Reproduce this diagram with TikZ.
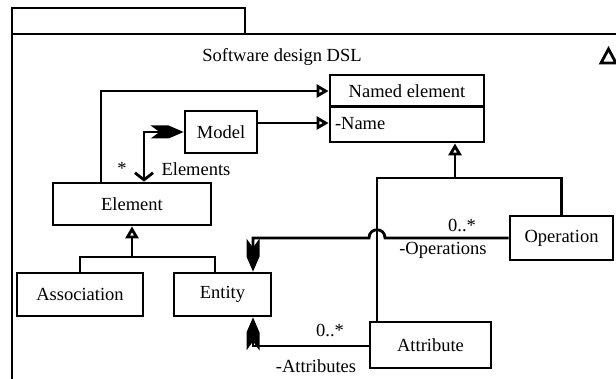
\documentclass[tikz,border=0pt]{standalone}
\usepackage{fontspec}
\setmainfont{Liberation Serif}
\usetikzlibrary{arrows.meta}
\pgfdeclarearrow{
  name = Fletch,
  setup code = {
    \pgfarrowssettipend{0pt}
    \pgfarrowssetbackend{-33pt}
    \pgfarrowssetlineend{-22pt}
    \pgfarrowssetvisualbackend{-22pt}
    \pgfarrowshullpoint{0pt}{0pt}
    \pgfarrowshullpoint{-33pt}{6.5pt}
    \pgfarrowshullpoint{-33pt}{-6.5pt}
  },
  drawing code = {
    \pgfpathmoveto{\pgfqpoint{0pt}{0pt}}
    \pgfpathlineto{\pgfqpoint{-15pt}{6.5pt}}
    \pgfpathlineto{\pgfqpoint{-33pt}{6.5pt}}
    \pgfpathlineto{\pgfqpoint{-24pt}{0pt}}
    \pgfpathlineto{\pgfqpoint{-33pt}{-6.5pt}}
    \pgfpathlineto{\pgfqpoint{-15pt}{-6.5pt}}
    \pgfpathclose
    \pgfusepathqfill
  }
}
\begin{document}
\begin{tikzpicture}[x=1pt,y=-1pt,
  every node/.style={font=\fontsize{18.5}{20}\selectfont},
  box/.style={draw,line width=2.8pt,inner sep=0pt,anchor=center},
  conn/.style={line width=2.8pt},
  gen/.style={conn,-{Triangle[open,length=12pt,width=13pt,line width=2.8pt]}},
  lbl/.style={inner sep=0pt}]
\useasboundingbox (0,0) rectangle (616,379);
\clip (0,0) rectangle (616,379);
% frame
\draw[conn] (12,8) rectangle (245,34);
\draw[conn] (12,400) -- (12,34) -- (640,34);
\node[lbl] (title) at (282,57) {Software design DSL};
\draw[conn,line join=miter] (601,63) -- (608.5,49) -- (616,63) -- cycle;
% classes
\node[box,minimum width=154pt,minimum height=32pt] (named) at (407,91) {Named element};
\node[box,minimum width=154pt,minimum height=36pt,text width=144pt,align=left] (namedattr) at (407,124) {-Name};
\node[box,minimum width=72pt,minimum height=42pt] (model) at (221,132) {Model};
\node[box,minimum width=158pt,minimum height=42pt] (element) at (132,204) {Element};
\node[box,minimum width=126pt,minimum height=43pt] (assoc) at (80,294.5) {Association};
\node[box,minimum width=97pt,minimum height=43pt] (entity) at (222.5,294.5) {Entity};
\node[box,minimum width=103pt,minimum height=44pt] (operation) at (561.5,238) {Operation};
\node[box,minimum width=121pt,minimum height=46pt] (attribute) at (430.5,345) {Attribute};
% junctions
\coordinate (hop) at (377,238);
\coordinate (gj) at (455,178);
\coordinate (ej) at (132,257);
% generalizations
\draw[gen] ([xshift=-31pt]element.north) |- (named.west);
\draw[gen] ([yshift=9pt]model.east) -- ([yshift=9pt]model.east -| namedattr.west);
\draw[conn] (attribute.north -| hop) |- (gj) -| (operation.north);
\draw[gen] (gj) -- (namedattr.south -| gj);
\draw[conn] (assoc.north) |- (ej) -| ([xshift=-7.5pt]entity.north);
\draw[gen] (ej) -- (element.south);
% associations
\draw[conn,{Fletch}-{Straight Barb[length=7pt,width=18pt,line width=2.8pt]}]
  (model.west) -| ([xshift=12pt]element.north);
\draw[conn,{Fletch}-]
  ([xshift=30.5pt]entity.north) |- ([xshift=-8pt]hop)
  .. controls +(0,-11) and +(0,-11) .. ([xshift=8pt]hop) -- (operation.west);
\draw[conn,{Fletch}-]
  ([xshift=30.5pt]entity.south) |- ([yshift=-1pt]attribute.west);
% labels
\node[lbl] (star) at (122,168) {*};
\node[lbl] (elements) at (196,169) {Elements};
\node[lbl] (opmult) at (462,225) {0..*};
\node[lbl] (oprole) at (443,250) {-Operations};
\node[lbl] (atmult) at (330,330) {0..*};
\node[lbl] (atrole) at (316,366) {-Attributes};
\end{tikzpicture}
\end{document}
